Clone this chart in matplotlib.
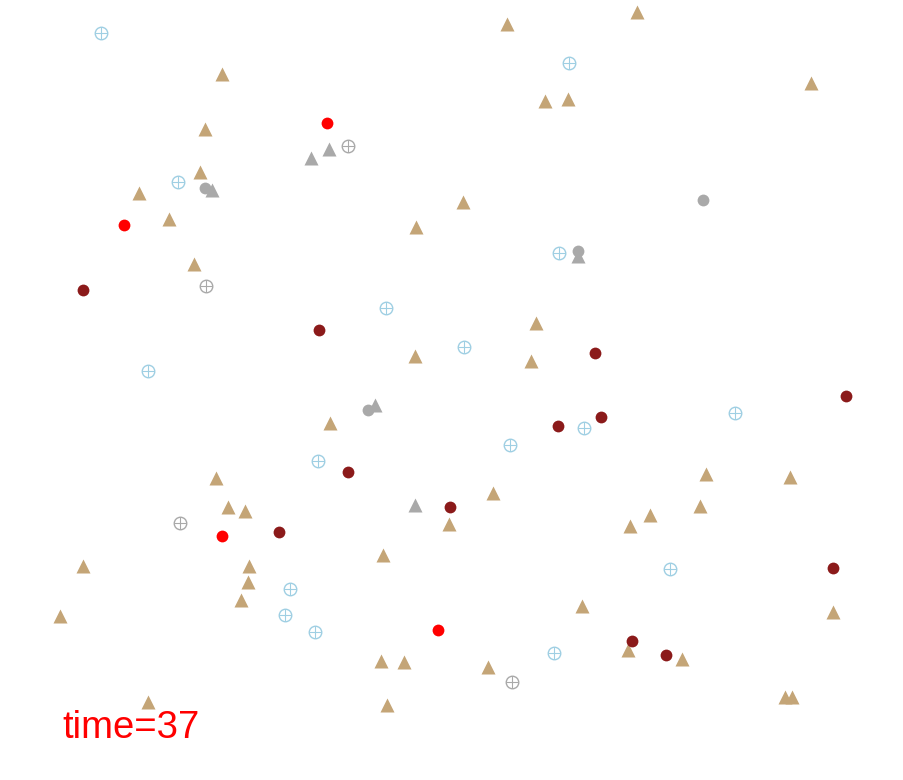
import matplotlib

matplotlib.use("Agg")
import matplotlib.pyplot as plt  # noqa: E402

# positions (x right, y down, in 0..904 / 0..780 units)
tan_tri_x = [507, 637, 222, 545, 568, 811, 205, 200, 139, 169, 463, 416, 194, 536, 415, 531,
             330, 216, 228, 245, 493, 449, 706, 790, 650, 630, 700, 383, 83, 249, 248, 241,
             60, 582, 833, 381, 404, 488, 628, 682, 785, 792, 148, 387]
tan_tri_y = [24, 12, 74, 101, 99, 83, 129, 172, 193, 219, 202, 227, 264, 323, 356, 361,
             423, 478, 507, 511, 493, 524, 474, 477, 515, 526, 506, 555, 566, 566, 582, 600,
             616, 606, 612, 661, 662, 667, 650, 659, 697, 697, 702, 705]

blue_plus_x = [101, 569, 178, 559, 386, 464, 148, 735, 584, 510, 318, 670, 290, 285, 315, 554]
blue_plus_y = [33, 63, 182, 253, 308, 347, 371, 413, 428, 445, 461, 569, 589, 615, 632, 653]

gray_plus_x = [348, 206, 180, 512]
gray_plus_y = [146, 286, 523, 682]

gray_tri_x = [311, 329, 212, 578, 375, 415]
gray_tri_y = [158, 149, 190, 256, 405, 505]

gray_dot_x = [205, 703, 368, 578]
gray_dot_y = [188, 200, 410, 251]

darkred_x = [83, 319, 595, 846, 558, 601, 348, 450, 279, 833, 632, 666]
darkred_y = [290, 330, 353, 396, 426, 417, 472, 507, 532, 568, 641, 655]

red_x = [327, 124, 222, 438]
red_y = [123, 225, 536, 630]

time_label = "time=37"

fig = plt.figure(figsize=(9.04, 7.80), dpi=100)
ax = fig.add_axes([0, 0, 1, 1])
ax.set_xlim(0, 904)
ax.set_ylim(780, 0)
ax.axis("off")

tan = "#C4A577"
lblue = "#9FCFE3"
gray = "#A9A9A9"

ax.plot(tan_tri_x, tan_tri_y, "^", ms=10.5, color=tan, mec="none")
ax.plot(gray_tri_x, gray_tri_y, "^", ms=10.5, color=gray, mec="none")
ax.plot(gray_dot_x, gray_dot_y, "o", ms=8.5, color=gray, mec="none")
ax.plot(darkred_x, darkred_y, "o", ms=8.5, color="#8B1A1A", mec="none")
ax.plot(red_x, red_y, "o", ms=8.5, color="#FF0000", mec="none")

for xs, ys, c in [(blue_plus_x, blue_plus_y, lblue), (gray_plus_x, gray_plus_y, gray)]:
    ax.plot(xs, ys, "o", ms=9, mfc="none", mec=c, mew=1.0)
    ax.plot(xs, ys, "+", ms=9, mec=c, mew=0.8)

ax.text(62, 738, time_label, color="#FF0000", fontsize=27.5,
        family=["Liberation Sans", "DejaVu Sans"], ha="left", va="baseline")

fig.savefig("out.png", dpi=100, facecolor="white")
